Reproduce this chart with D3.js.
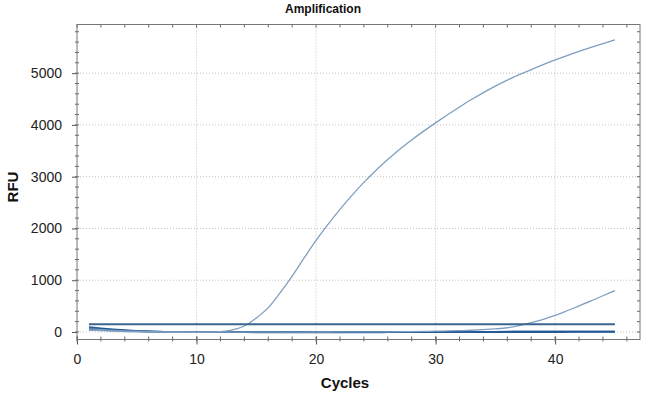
<!DOCTYPE html>
<html>
<head>
<meta charset="utf-8">
<script src="https://d3js.org/d3.v7.min.js"></script>
<style>
  body { margin: 0; background: #fff; }
  svg { font-family: Arial, "Liberation Sans", sans-serif; }
</style>
</head>
<body>
<svg id="chart" width="645" height="395"></svg>
<script>
// cycle numbers
const cycles = [1, 2, 3, 4, 5, 6, 7, 8, 9, 10, 11, 12, 13, 14, 15, 16, 17, 18, 19, 20,
    21, 22, 23, 24, 25, 26, 27, 28, 29, 30, 31, 32, 33, 34, 35, 36, 37, 38, 39, 40,
    41, 42, 43, 44, 45];

// RFU readings per well
const earlyWell = [35, 25, 15, 8, 3, 0, -3, -5, -6, -5, -2, 8, 40, 115, 270, 470, 760, 1080, 1430, 1770,
    2080, 2370, 2640, 2890, 3120, 3330, 3530, 3710, 3880, 4040, 4195, 4345, 4490, 4625, 4750, 4865,
    4970, 5070, 5165, 5255, 5340, 5420, 5497, 5572, 5645];
const lateWell = [60, 45, 32, 22, 14, 8, 4, 1, 0, -2, -3, -3, -4, -4, -3, -3, -2, -2, -1, 0,
    0, 1, 1, 2, 3, 4, 6, 8, 11, 15, 20, 26, 34, 45, 60, 82, 125, 180, 245, 320,
    410, 505, 600, 700, 800];
const flatWellA = [95, 72, 52, 36, 24, 14, 7, 2, -1, -3, -4, -4, -5, -5, -4, -4, -3, -3, -2, -2,
    -1, -1, 0, 0, 1, 1, 2, 2, 3, 3, 4, 4, 5, 5, 6, 6, 7, 7, 8, 8, 9, 9, 10, 10, 10];
const flatWellB = [70, 55, 40, 28, 18, 10, 4, 0, -2, -3, -3, -3, -2, -2, -2, -1, -1, 0, 0, 1,
    1, 2, 2, 3, 3, 3, 4, 4, 4, 5, 5, 5, 6, 6, 6, 7, 7, 7, 8, 8, 8, 9, 9, 9, 9];
const flatWellC = [50, 40, 30, 21, 14, 8, 3, 0, -2, -3, -4, -5, -6, -6, -7, -7, -7, -8, -8, -8,
    -8, -8, -7, -7, -7, -6, -6, -6, -5, -5, -5, -4, -4, -4, -3, -3, -3, -2, -2, -2,
    -1, -1, 0, 0, 0];

const threshold = 150;

const xTicks = [0, 10, 20, 30, 40];
const yTicks = [0, 1000, 2000, 3000, 4000, 5000];

let svg = d3.select("#chart");

let plotLeft = 77, plotRight = 640, plotTop = 24.5, plotBottom = 339.5;

let xScale = d3.scaleLinear().domain([0, 47.1]).range([plotLeft, plotRight]);
let yScale = d3.scaleLinear().domain([-145, 5940]).range([plotBottom, plotTop]);

// grid
let grid = svg.append("g");
grid.selectAll(".vg").data(xTicks.slice(1)).enter().append("line")
    .attr("x1", d => xScale(d)).attr("x2", d => xScale(d))
    .attr("y1", plotTop).attr("y2", plotBottom)
    .attr("stroke", "#c4c4c4").attr("stroke-dasharray", "1,2");
grid.selectAll(".hg").data(yTicks).enter().append("line")
    .attr("x1", plotLeft).attr("x2", plotRight)
    .attr("y1", d => yScale(d)).attr("y2", d => yScale(d))
    .attr("stroke", "#c4c4c4").attr("stroke-dasharray", "1,2");

// axes
let xMinor = d3.range(0, 47, 2);
let yMinor = d3.range(0, 5900, 200);

let xAxis = d3.axisBottom(xScale).tickValues(xTicks).tickSize(5).tickSizeOuter(0).tickPadding(8);
let gx = svg.append("g").attr("transform", "translate(0," + plotBottom + ")").call(xAxis);
gx.select(".domain").remove();
gx.selectAll(".tick line").attr("stroke", "#555").attr("y1", -3);
gx.selectAll("text").attr("font-size", 14).attr("fill", "#222").attr("dy", "0.85em");

let yAxis = d3.axisLeft(yScale).tickValues(yTicks).tickFormat(d3.format("d"))
    .tickSize(5).tickSizeOuter(0).tickPadding(10);
let gy = svg.append("g").attr("transform", "translate(" + plotLeft + ",0)").call(yAxis);
gy.select(".domain").remove();
gy.selectAll(".tick line").attr("stroke", "#555");
gy.selectAll("text").attr("font-size", 14).attr("fill", "#222");

// minor ticks on all four sides
let ticks = svg.append("g").attr("stroke", "#666");
ticks.selectAll(".xb").data(xMinor).enter().append("line")
    .attr("x1", d => xScale(d)).attr("x2", d => xScale(d))
    .attr("y1", plotBottom - 3).attr("y2", plotBottom + 2);
ticks.selectAll(".xt").data(xMinor).enter().append("line")
    .attr("x1", d => xScale(d)).attr("x2", d => xScale(d))
    .attr("y1", plotTop).attr("y2", plotTop + 3);
ticks.selectAll(".yl").data(yMinor).enter().append("line")
    .attr("x1", plotLeft - 2).attr("x2", plotLeft + 2)
    .attr("y1", d => yScale(d)).attr("y2", d => yScale(d));
ticks.selectAll(".yr").data(yMinor).enter().append("line")
    .attr("x1", plotRight - 3).attr("x2", plotRight)
    .attr("y1", d => yScale(d)).attr("y2", d => yScale(d));

// frame
svg.append("rect")
    .attr("x", plotLeft).attr("y", plotTop)
    .attr("width", plotRight - plotLeft).attr("height", plotBottom - plotTop)
    .attr("fill", "none").attr("stroke", "#777").attr("stroke-width", 1);

// curves
let line = d3.line()
    .x((d, i) => xScale(cycles[i]))
    .y(d => yScale(d))
    .curve(d3.curveMonotoneX);

let darkWells = [flatWellA, flatWellB, flatWellC];
svg.append("g").selectAll("path").data(darkWells).enter().append("path")
    .attr("d", line)
    .attr("fill", "none")
    .attr("stroke", "#245a96")
    .attr("stroke-width", 1.6);

svg.append("path").datum(lateWell)
    .attr("d", line)
    .attr("fill", "none")
    .attr("stroke", "#7f9fc0")
    .attr("stroke-width", 1.3);

svg.append("path").datum(earlyWell)
    .attr("d", line)
    .attr("fill", "none")
    .attr("stroke", "#7f9fc0")
    .attr("stroke-width", 1.3);

// threshold line
svg.append("line")
    .attr("x1", xScale(cycles[0])).attr("x2", xScale(cycles[cycles.length - 1]))
    .attr("y1", yScale(threshold)).attr("y2", yScale(threshold))
    .attr("stroke", "#3a6590").attr("stroke-width", 1.8);

// labels
svg.append("text")
    .attr("x", 323).attr("y", 13)
    .attr("text-anchor", "middle")
    .attr("font-size", 12).attr("font-weight", "bold").attr("fill", "#111")
    .text("Amplification");

svg.append("text")
    .attr("x", 345).attr("y", 388)
    .attr("text-anchor", "middle")
    .attr("font-size", 15).attr("font-weight", "bold").attr("fill", "#111")
    .text("Cycles");

svg.append("text")
    .attr("transform", "translate(18,187) rotate(-90)")
    .attr("text-anchor", "middle")
    .attr("font-size", 15).attr("font-weight", "bold").attr("fill", "#111")
    .text("RFU");
</script>
</body>
</html>
